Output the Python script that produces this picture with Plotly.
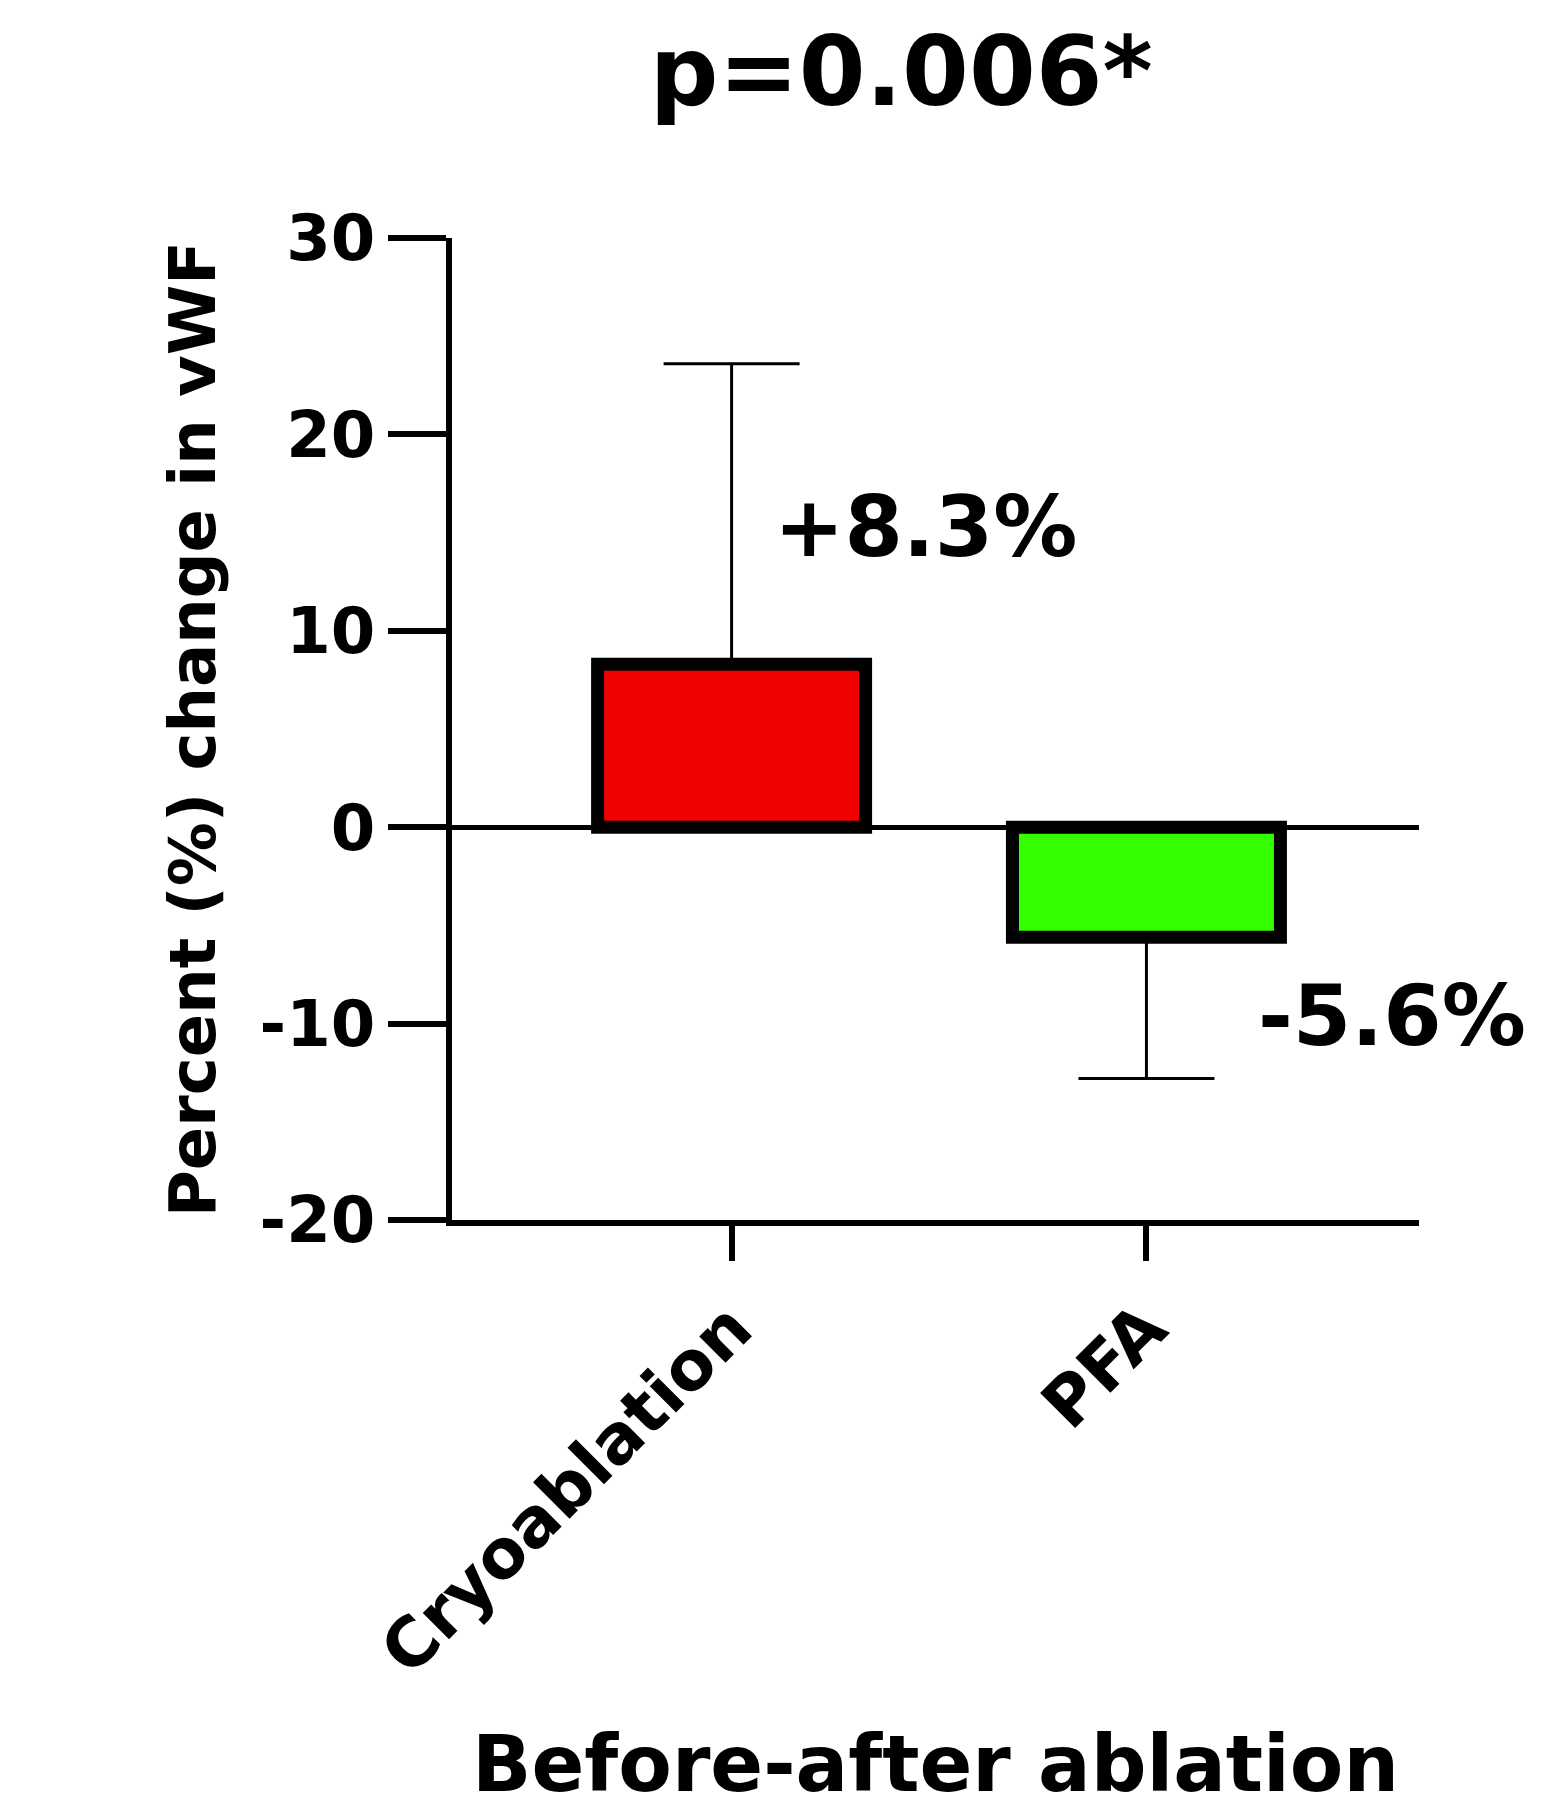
import plotly.graph_objects as go

categories = ["Cryoablation", "PFA"]
means = [8.3, -5.6]
err_up = [15.3, 0]
err_down = [0, 7.2]
colors = ["#f00000", "#33ff00"]
tick_vals = [-20, -10, 0, 10, 20, 30]
tick_text = ["-20", "-10", "0", "10", "20", "30"]

F = "DejaVu Sans"
fig = go.Figure(go.Bar(
    x=categories, y=means, width=0.646,
    marker=dict(color=colors, line=dict(color="black", width=13)),
    error_y=dict(type="data", symmetric=False, array=err_up, arrayminus=err_down,
                 color="black", thickness=3, width=68),
))
fig.add_annotation(x=0, y=15.3, text="+8.3%", xshift=40, xanchor="left", showarrow=False,
                   font=dict(family=F, size=84, weight="bold", color="black"))
fig.add_annotation(x=1, y=-9.6, text="-5.6%", xshift=110, xanchor="left", showarrow=False,
                   font=dict(family=F, size=84, weight="bold", color="black"))
fig.update_layout(
    width=1567, height=1805, plot_bgcolor="white", paper_bgcolor="white",
    margin=dict(l=444, r=156, t=230, b=593), showlegend=False,
    title=dict(text="p=0.006*", x=0.57, xanchor="center", y=0.965, yanchor="middle",
               font=dict(family=F, size=96, weight="bold", color="black")),
    font=dict(family=F, weight="bold", color="black"),
)
fig.update_yaxes(range=[-20, 30], tickvals=tick_vals, ticktext=tick_text, showgrid=False,
                 ticks="outside", ticklen=58, tickwidth=6, tickcolor="black",
                 showline=True, linewidth=6, linecolor="black",
                 zeroline=True, zerolinewidth=5, zerolinecolor="black",
                 tickfont=dict(family=F, size=64, weight="bold"),
                 title=dict(text="Percent (%) change in vWF", standoff=25,
                            font=dict(family=F, size=64, weight="bold")))
fig.update_xaxes(range=[-0.674, 1.657], showgrid=False, ticks="outside", ticklen=35,
                 tickwidth=6, tickcolor="black", showline=True, linewidth=6, linecolor="black",
                 tickangle=-45, tickfont=dict(family=F, size=68, weight="bold"),
                 title=dict(text="Before-after ablation", standoff=50,
                            font=dict(family=F, size=78, weight="bold")))
fig.write_html("out.html")
